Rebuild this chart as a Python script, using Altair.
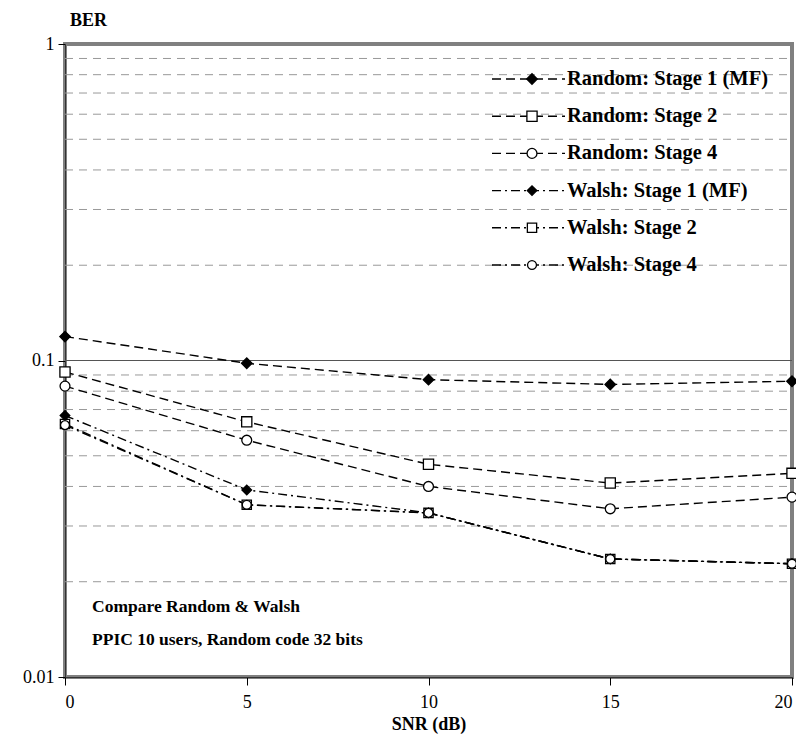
import altair as alt
import pandas as pd

snr = [0, 5, 10, 15, 20]
series_names = [
    "Random: Stage 1 (MF)",
    "Random: Stage 2",
    "Random: Stage 4",
    "Walsh: Stage 1 (MF)",
    "Walsh: Stage 2",
    "Walsh: Stage 4",
]
rand_s1 = [0.119, 0.098, 0.087, 0.084, 0.086]
rand_s2 = [0.092, 0.064, 0.047, 0.041, 0.044]
rand_s4 = [0.083, 0.056, 0.040, 0.034, 0.037]
walsh_s1 = [0.067, 0.039, 0.033, 0.0236, 0.0228]
walsh_s2 = [0.063, 0.035, 0.033, 0.0236, 0.0228]
walsh_s4 = [0.0625, 0.035, 0.033, 0.0236, 0.0228]
all_series = [rand_s1, rand_s2, rand_s4, walsh_s1, walsh_s2, walsh_s4]

y_ticks = [0.01, 0.1, 1]
x_ticks = [0, 5, 10, 15, 20]
minor_grid = [0.02, 0.03, 0.04, 0.05, 0.06, 0.07, 0.08, 0.09,
              0.2, 0.3, 0.4, 0.5, 0.6, 0.7, 0.8, 0.9]
major_grid = [0.1]
note_lines = ["Compare Random & Walsh", "PPIC 10 users, Random code 32 bits"]

rows = []
for name, vals in zip(series_names, all_series):
    for s, v in zip(snr, vals):
        rows.append({"series": name, "snr": s, "ber": v})
df = pd.DataFrame(rows)
leg_df = pd.DataFrame({"series": series_names, "row": list(range(len(series_names)))})
grid_df = pd.DataFrame({"v": minor_grid, "x0": [0] * len(minor_grid), "x1": [20] * len(minor_grid)})
major_df = pd.DataFrame({"v": major_grid, "x0": [0], "x1": [20]})
note_df = pd.DataFrame({"k": [0]})

FONT = "Liberation Serif"
W, H = 727, 633

dash_scale = alt.Scale(domain=series_names,
                       range=[[9, 5], [9, 5], [9, 5], [9, 4, 2, 4], [9, 4, 2, 4], [9, 4, 2, 4]])
shape_scale = alt.Scale(domain=series_names,
                        range=["diamond", "square", "circle", "diamond", "square", "circle"])
fill_scale = alt.Scale(domain=series_names,
                       range=["black", "white", "white", "black", "white", "white"])
size_scale = alt.Scale(domain=series_names, range=[110, 80, 80, 110, 80, 80])

yscale = alt.Scale(type="log", domain=[0.01, 1], nice=False)
xscale = alt.Scale(domain=[0, 20], nice=False)

x_axis = alt.Axis(values=x_ticks, title="SNR (dB)", grid=False,
                  tickSize=8, labelPadding=8, labelFontSize=18,
                  titleFontSize=18, titleFontWeight="bold",
                  titleY=47, titleBaseline="middle")
y_axis = alt.Axis(values=y_ticks, format="~g", title="BER", grid=False,
                  tickSize=7, labelPadding=4, labelFontSize=18,
                  titleAngle=0, titleX=23, titleY=-24,
                  titleAlign="center", titleBaseline="middle",
                  titleFontSize=18, titleFontWeight="bold")

grid = alt.Chart(grid_df).mark_rule(color="#999999", strokeDash=[8, 6], strokeWidth=1).encode(
    x=alt.X("x0:Q", scale=xscale, axis=x_axis),
    x2="x1:Q",
    y=alt.Y("v:Q", scale=yscale, axis=y_axis),
)
major = alt.Chart(major_df).mark_rule(color="#555555", strokeWidth=1).encode(
    x=alt.X("x0:Q", scale=xscale, axis=x_axis),
    x2="x1:Q",
    y=alt.Y("v:Q", scale=yscale, axis=y_axis),
)

lines = alt.Chart(df).mark_line(color="black", strokeWidth=1.4).encode(
    x=alt.X("snr:Q", scale=xscale, axis=x_axis),
    y=alt.Y("ber:Q", scale=yscale, axis=y_axis),
    strokeDash=alt.StrokeDash("series:N", scale=dash_scale, legend=None),
    detail="series:N",
)
points = alt.Chart(df).mark_point(stroke="black", strokeWidth=1.3, opacity=1).encode(
    x=alt.X("snr:Q", scale=xscale, axis=x_axis),
    y=alt.Y("ber:Q", scale=yscale, axis=y_axis),
    shape=alt.Shape("series:N", scale=shape_scale, legend=None),
    fill=alt.Fill("series:N", scale=fill_scale, legend=None),
    size=alt.Size("series:N", scale=size_scale, legend=None),
)

main = alt.layer(grid, major, lines, points)

ly = alt.Y("row:Q", scale=alt.Scale(domain=[0, 5], range=[35, 221]), axis=None)
leg_rule = alt.Chart(leg_df).mark_rule(color="black", strokeWidth=1.4).encode(
    x=alt.value(427), x2=alt.value(500), y=ly,
    strokeDash=alt.StrokeDash("series:N", scale=dash_scale, legend=None),
)
leg_pt = alt.Chart(leg_df).mark_point(stroke="black", strokeWidth=1.3, opacity=1).encode(
    x=alt.value(467), y=ly,
    shape=alt.Shape("series:N", scale=shape_scale, legend=None),
    fill=alt.Fill("series:N", scale=fill_scale, legend=None),
    size=alt.Size("series:N", scale=size_scale, legend=None),
)
leg_txt = alt.Chart(leg_df).mark_text(align="left", baseline="middle", font=FONT,
                                      fontWeight="bold", fontSize=20.5, color="black").encode(
    x=alt.value(502), y=ly, text="series:N"
)
note = alt.Chart(note_df).mark_text(align="left", baseline="middle", font=FONT,
                                    fontWeight="bold", fontSize=17.5, color="black",
                                    lineHeight=33).encode(
    x=alt.value(27), y=alt.value(563), text=alt.value(note_lines)
)
legend = alt.layer(leg_rule, leg_pt, leg_txt, note)

chart = alt.layer(main, legend).resolve_scale(
    y="independent", strokeDash="independent", shape="independent",
    fill="independent", size="independent"
).properties(
    width=W, height=H,
    autosize=alt.AutoSizeParams(type="none"),
    padding={"left": 57, "top": 36, "right": 4, "bottom": 57},
    background="white",
).configure_view(
    stroke="#808080", strokeWidth=4
).configure_axis(
    labelFont=FONT, titleFont=FONT, labelColor="black", titleColor="black",
    tickColor="black", domainColor="#333333", domainWidth=1,
)

chart.save("out.html", embed_options={"renderer": "svg", "actions": False})
